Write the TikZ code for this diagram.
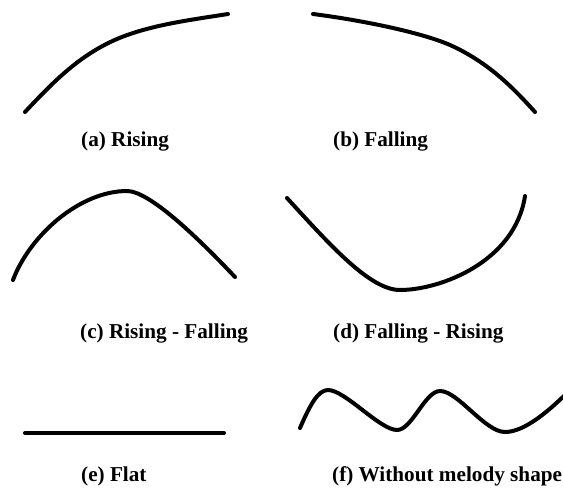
\documentclass[tikz,border=0pt]{standalone}
\usepackage{fontspec}
\setmainfont{Liberation Serif}
\begin{document}
\begin{tikzpicture}[x=1pt,y=-1pt,
  contour/.style={line width=4pt,line cap=round,line join=round,black},
  lbl/.style={anchor=base west,inner sep=0pt,font=\fontsize{21.2}{25}\selectfont\bfseries}]
\useasboundingbox (0,0) rectangle (563,490);
\clip (0,0) rectangle (563,490);
\fill[white] (0,0) rectangle (563,490);
% (a) Rising
\draw[contour] (25,112) .. controls (55,80) and (80,55) .. (117,39)
                        .. controls (150,25) and (190,20) .. (228,14);
% (b) Falling
\draw[contour] (313,14) .. controls (360,20) and (420,32) .. (450,45)
                        .. controls (490,63) and (515,90) .. (535,112);
% (c) Rising - Falling
\draw[contour] (13,280) .. controls (30,235) and (80,191) .. (127,191)
                        .. controls (150,191) and (200,240) .. (235,277);
% (d) Falling - Rising
\draw[contour] (287,198) .. controls (330,245) and (370,290) .. (400,290)
                         .. controls (440,290) and (515,262) .. (525,196);
% (e) Flat
\draw[contour] (25,433) -- (224,433);
% (f) Without melody shape
\draw[contour] (300,428) .. controls (310,405) and (318,390) .. (328,390)
                         .. controls (345,390) and (380,430) .. (397,430)
                         .. controls (412,430) and (425,391) .. (440,391)
                         .. controls (458,391) and (485,432) .. (505,432)
                         .. controls (525,432) and (550,410) .. (570,390);
% labels
\node[lbl] (la) at (81,146) {(a) Rising};
\node[lbl] (lb) at (333,146) {(b) Falling};
\node[lbl] (lc) at (80,338) {(c) Rising - Falling};
\node[lbl] (ld) at (333,338) {(d) Falling - Rising};
\node[lbl] (le) at (81,481) {(e) Flat};
\node[lbl] (lf) at (332,481) {(f) Without melody shape};
\end{tikzpicture}
\end{document}
